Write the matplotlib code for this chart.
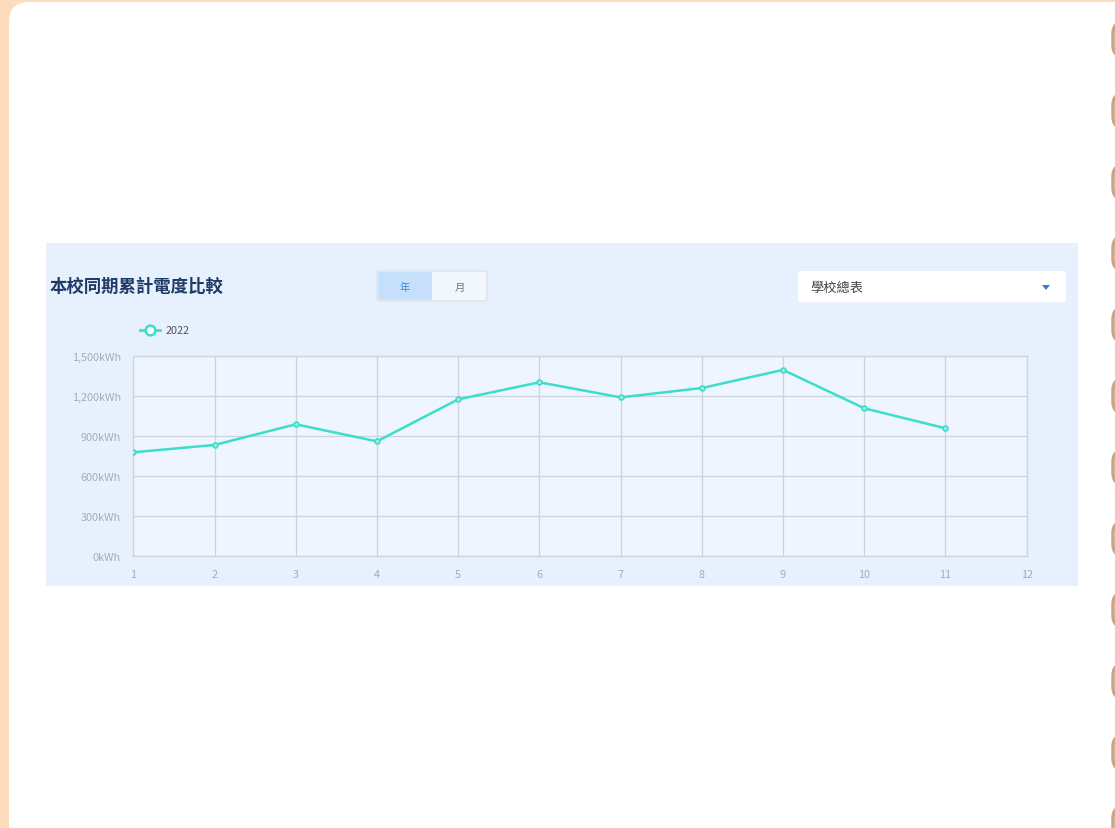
"""
本校同期累計電度比較 - cumulative electricity use per month, school total.
Recreates the dashboard panel: peach frame, white card, light-blue chart panel.
"""

import matplotlib.pyplot as plt
from matplotlib.patches import FancyBboxPatch, Rectangle, Polygon
from matplotlib.lines import Line2D
from matplotlib.ticker import FuncFormatter

plt.rcParams["font.family"] = ["Noto Sans CJK TC", "DejaVu Sans"]

W, H = 1115, 829

# --- Data ------------------------------------------------------------------

months = [1, 2, 3, 4, 5, 6, 7, 8, 9, 10, 11]
kwh_2022 = [780, 835, 990, 862, 1177, 1305, 1192, 1262, 1398, 1110, 960]
series_label = "2022"
y_ticks = [0, 300, 600, 900, 1200, 1500]
x_ticks = list(range(1, 13))

title = "本校同期累計電度比較"
toggle_labels = ["年", "月"]
dropdown_label = "學校總表"

# --- Colors ----------------------------------------------------------------

PEACH = "#FDDCBB"
PANEL = "#E7F1FD"
PLOT_BG = "#EEF5FE"
GRID = "#CBD3DF"
LINE = "#3DDDCB"
TICK = "#A3ABBA"
NAVY = "#1D3B66"

fig = plt.figure(figsize=(W / 100, H / 100), dpi=100)
fig.patch.set_facecolor(PEACH)

# Background layer drawn in pixel coordinates (y downwards)
bg = fig.add_axes([0, 0, 1, 1])
bg.set_xlim(0, W)
bg.set_ylim(H, 0)
bg.axis("off")

# white card
bg.add_patch(FancyBboxPatch((9, 3), 1200, 900, boxstyle="round,pad=0,rounding_size=20",
                            facecolor="white", edgecolor="none"))

# brown pills along the right edge
for i in range(12):
    top = 23 + i * 71.3
    bg.add_patch(FancyBboxPatch((1113, top), 30, 35, boxstyle="round,pad=0,rounding_size=12",
                                facecolor="#FFF7F0", edgecolor="#C9A486", linewidth=2.5))

# chart panel
bg.add_patch(Rectangle((46, 244), 1032, 343, facecolor=PANEL, edgecolor="none"))

bg.text(50, 287, title, fontsize=12.5, fontweight="bold", color=NAVY, va="center", ha="left")

# year / month toggle
bg.add_patch(FancyBboxPatch((377, 272), 110, 30, boxstyle="round,pad=0,rounding_size=3",
                            facecolor="#F2F7FE", edgecolor="#D5DEEA", linewidth=0.8))
bg.add_patch(FancyBboxPatch((378, 273), 54, 28, boxstyle="round,pad=0,rounding_size=2",
                            facecolor="#C6DFFB", edgecolor="none"))
bg.text(405, 288, toggle_labels[0], fontsize=7.5, color="#3D8BE0", ha="center", va="center")
bg.text(460, 288, toggle_labels[1], fontsize=7.5, color="#707780", ha="center", va="center")

# dropdown
bg.add_patch(FancyBboxPatch((798, 272), 268, 31, boxstyle="round,pad=0,rounding_size=3",
                            facecolor="white", edgecolor="none"))
bg.text(810, 288, dropdown_label, fontsize=9.5, color="#444444", ha="left", va="center")
bg.add_patch(Polygon([(1042, 286), (1050, 286), (1046, 291)], closed=True,
                     facecolor="#2F7FD8", edgecolor="none"))

# legend
bg.add_line(Line2D([140, 160], [331, 331], color=LINE, linewidth=2))
bg.plot([150], [331], marker="o", markersize=7, markerfacecolor="white",
        markeredgecolor=LINE, markeredgewidth=1.8)
bg.text(166, 331, series_label, fontsize=7.8, color="#555555", ha="left", va="center")

# --- Chart ------------------------------------------------------------------

x0, x1 = 133.3, 1026.7
y_top, y_bot = 357.3, 557.3
ax = fig.add_axes([x0 / W, 1 - y_bot / H, (x1 - x0) / W, (y_bot - y_top) / H])
ax.set_facecolor(PLOT_BG)
ax.plot(months, kwh_2022, color=LINE, linewidth=1.8, marker="o", markersize=3.5,
        markerfacecolor="#9FF0E6", markeredgecolor=LINE, markeredgewidth=1.2, zorder=3)

ax.set_xlim(1, 12)
ax.set_ylim(0, 1500)
ax.set_xticks(x_ticks)
ax.set_yticks(y_ticks)
ax.yaxis.set_major_formatter(FuncFormatter(lambda v, _: f"{int(v):,}kWh"))
ax.grid(True, color=GRID, linewidth=0.9)
ax.set_axisbelow(True)
ax.tick_params(length=0, labelsize=7.8, colors=TICK, pad=9)
for spine in ax.spines.values():
    spine.set_color(GRID)
    spine.set_linewidth(0.9)

fig.savefig("out.png", dpi=100, facecolor=PEACH)
